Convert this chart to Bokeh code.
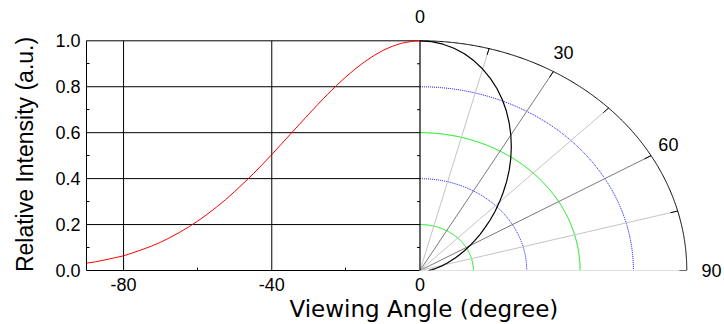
import numpy as np
from bokeh.plotting import figure
from bokeh.models import FixedTicker, PrintfTickFormatter, Range1d, LinearAxis, Title
from bokeh.core.properties import value
from bokeh.embed import file_html
from bokeh.resources import INLINE

# ---- data ----
angles = [-90, -87.5, -85, -82.5, -80, -77.5, -75, -72.5, -70, -67.5,
          -65, -62.5, -60, -57.5, -55, -52.5, -50, -47.5, -45, -42.5,
          -40, -37.5, -35, -32.5, -30, -27.5, -25, -22.5, -20, -17.5,
          -15, -12.5, -10, -7.5, -5, -2.5, 0]
intensity = [0.032, 0.038, 0.046, 0.055, 0.064, 0.077, 0.091, 0.106, 0.123, 0.143,
             0.165, 0.189, 0.215, 0.244, 0.275, 0.308, 0.344, 0.382, 0.421, 0.462,
             0.505, 0.549, 0.593, 0.637, 0.681, 0.724, 0.766, 0.806, 0.843, 0.877,
             0.908, 0.935, 0.958, 0.976, 0.989, 0.997, 1.0]

y_ticks = [0.0, 0.2, 0.4, 0.6, 0.8, 1.0]
y_minor = [0.1, 0.3, 0.5, 0.7, 0.9]
x_ticks = [-80, -40, 0]
x_minor = [-60, -20]
x_grid = [-80, -40]
y_grid = [0.2, 0.4, 0.6, 0.8, 1.0]

polar_rings = [0.2, 0.4, 0.6, 0.8]
ring_colors = ["#00e600", "#0000ff", "#00e600", "#0000ff"]
ring_dash = ["solid", "1 1", "solid", "1 1"]
spoke_angles = [15, 30, 45, 60, 75, 90]
spoke_colors = ["#c4c4c4", "#7a7a7a", "#c4c4c4", "#7a7a7a", "#c4c4c4", "#c4c4c4"]
inner_labels = [30, 60]      # polar angle labels drawn inside the frame
top_label = 0                # polar angle label above the frame
side_label = "90"            # polar angle label right of the frame

R = 72.0          # horizontal data length of unit radius in the polar part
FONT = "Liberation Sans"

p = figure(width=724, height=324, output_backend="svg", toolbar_location=None,
           x_range=Range1d(-90, 73), y_range=Range1d(0, 1.01),
           min_border_left=86, min_border_right=30, min_border_top=38,
           min_border_bottom=54)
p.outline_line_color = None
p.background_fill_color = "white"
p.border_fill_color = "white"
p.grid.visible = False

# x axis
xa = p.xaxis[0]
xa.ticker = FixedTicker(ticks=x_ticks, minor_ticks=x_minor)
xa.formatter = PrintfTickFormatter(format="%d")
xa.bounds = (-90, 0)
xa.major_tick_in = 0
xa.major_tick_out = 0
xa.minor_tick_in = 3
xa.minor_tick_out = 0
xa.major_label_standoff = 7
xa.major_label_text_font = FONT
xa.major_label_text_font_size = "18px"
xa.major_label_text_color = "black"
xa.axis_line_color = "black"

# y axis
ya = p.yaxis[0]
ya.ticker = FixedTicker(ticks=y_ticks, minor_ticks=y_minor)
ya.formatter = PrintfTickFormatter(format="%.1f")
ya.bounds = (0, 1)
ya.major_tick_in = 0
ya.major_tick_out = 0
ya.minor_tick_in = 3
ya.minor_tick_out = 0
ya.major_label_standoff = 6
ya.major_label_text_font = FONT
ya.major_label_text_font_size = "18px"
ya.major_label_text_color = "black"
ya.axis_label = "Relative Intensity (a.u.)"
ya.axis_label_text_font = FONT
ya.axis_label_text_font_size = "23px"
ya.axis_label_text_font_style = "normal"
ya.axis_label_text_color = "black"
ya.axis_label_standoff = 14
ya.axis_line_color = "black"

# polar angle labels outside the frame, as axes with a single tick
top_ax = LinearAxis(ticker=FixedTicker(ticks=[top_label]), formatter=PrintfTickFormatter(format="%d"),
                    axis_line_color=None, major_tick_line_color=None, minor_tick_line_color=None,
                    major_label_standoff=10, major_label_text_font=FONT,
                    major_label_text_font_size="18px", major_label_text_color="black")
p.add_layout(top_ax, "above")
right_ax = LinearAxis(ticker=FixedTicker(ticks=[0]), major_label_overrides={0: side_label},
                      axis_line_color=None, major_tick_line_color=None, minor_tick_line_color=None,
                      major_label_standoff=5, major_label_text_font=FONT,
                      major_label_text_font_size="18px", major_label_text_color="black")
p.add_layout(right_ax, "right")

# x axis title
p.add_layout(Title(text="Viewing Angle (degree)", align="left", offset=203, standoff=0,
                   text_font="DejaVu Sans", text_font_size="23px", text_font_style="normal",
                   text_color="black"), "below")

# grid lines of the cartesian part
p.segment(x0=-90, y0=y_grid, x1=0, y1=y_grid, line_color="black", line_width=1)
p.segment(x0=x_grid, y0=0, x1=x_grid, y1=1, line_color="black", line_width=1)

# ---- polar part ----
th = np.radians(np.linspace(0, 90, 361))
for r, c, d in zip(polar_rings, ring_colors, ring_dash):
    p.line(r * np.sin(th) * R, r * np.cos(th), line_color=c, line_dash=d, line_width=1)

sa = np.radians(spoke_angles)
p.segment(x0=0, y0=0, x1=np.sin(sa) * R, y1=np.cos(sa), line_color=spoke_colors, line_width=1)
p.segment(x0=0.972 * np.sin(sa) * R, y0=0.972 * np.cos(sa),
          x1=np.sin(sa) * R, y1=np.cos(sa), line_color="black", line_width=1)
p.line(np.sin(th) * R, np.cos(th), line_color="black", line_width=1)
p.segment(x0=0, y0=0, x1=0, y1=1, line_color="black", line_width=1.2)
p.segment(x0=-0.8, y0=y_minor, x1=0, y1=y_minor, line_color="black", line_width=1)

la = np.radians(inner_labels)
p.text(x=1.075 * np.sin(la) * R, y=1.095 * np.cos(la), text=[str(a) for a in inner_labels],
       text_align="center", text_baseline="middle", text_font=value(FONT),
       text_font_size="18px", text_color="black")

# ---- data curves ----
p.line(angles, intensity, line_color="#ff0000", line_width=1)
ta = np.radians(np.abs(angles))
inten = np.array(intensity)
p.line(inten * np.sin(ta) * R, inten * np.cos(ta), line_color="black", line_width=1.2)

open("out.html", "w").write(file_html(p, INLINE))
